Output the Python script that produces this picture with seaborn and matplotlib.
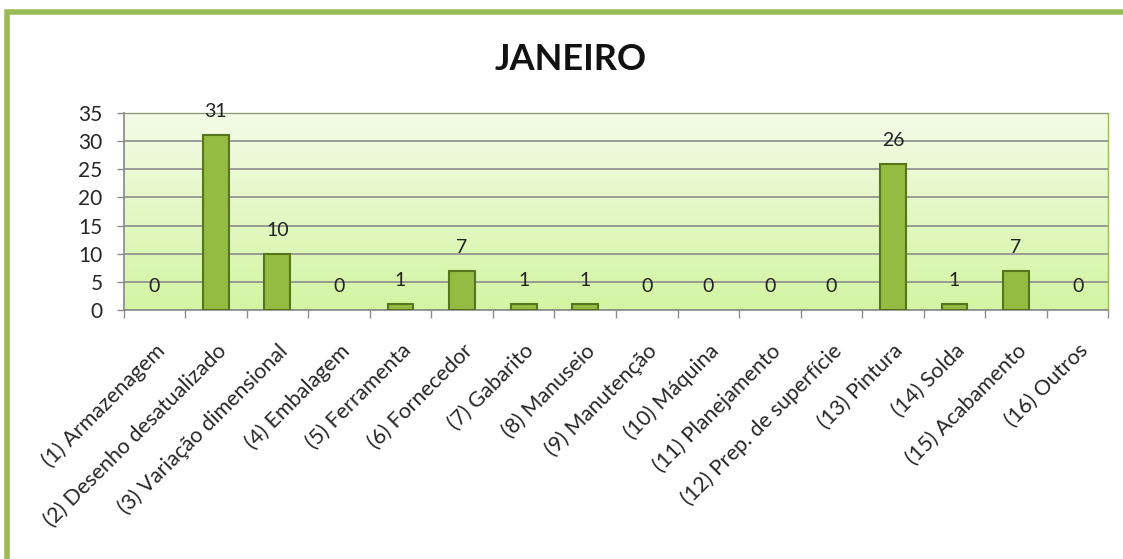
import numpy as np
import pandas as pd
import matplotlib
matplotlib.use("Agg")
import matplotlib.pyplot as plt
import matplotlib.patches as patches
import seaborn as sns
from matplotlib.colors import LinearSegmentedColormap

# data
categorias = [
    "(1) Armazenagem", "(2) Desenho desatualizado", "(3) Variação dimensional",
    "(4) Embalagem", "(5) Ferramenta", "(6) Fornecedor", "(7) Gabarito",
    "(8) Manuseio", "(9) Manutenção", "(10) Máquina", "(11) Planejamento",
    "(12) Prep. de superfície", "(13) Pintura", "(14) Solda", "(15) Acabamento",
    "(16) Outros",
]
ocorrencias = [0, 31, 10, 0, 1, 7, 1, 1, 0, 0, 0, 0, 26, 1, 7, 0]
titulo = "JANEIRO"
y_ticks = [0, 5, 10, 15, 20, 25, 30, 35]


def main():
    sns.set_theme(style="white")
    plt.rcParams["font.family"] = ["Lato", "DejaVu Sans"]

    df = pd.DataFrame({"categoria": categorias, "valor": ocorrencias})

    fig = plt.figure(figsize=(11.23, 5.59), dpi=100)
    ax = fig.add_axes([0.110, 0.4454, 0.877, 0.3525])

    # green frame around the chart
    frame = patches.Rectangle((0.006, -0.01), 1.05, 0.988, transform=fig.transFigure,
                              fill=False, edgecolor="#9bbb59", linewidth=4, clip_on=False)
    fig.patches.append(frame)

    # gradient background of the plot area
    cmap = LinearSegmentedColormap.from_list("bg", ["#d3f5a2", "#f4fbe8"])
    grad = np.linspace(0, 1, 256).reshape(-1, 1)
    ax.imshow(grad, aspect="auto", cmap=cmap, origin="lower",
              extent=[-0.5, len(categorias) - 0.5, 0, 35], zorder=0)

    sns.barplot(data=df, x="categoria", y="valor", ax=ax, color="#94bb42",
                width=0.42, saturation=1, edgecolor="#56751c", linewidth=1.5, zorder=3)
    # no outline for the empty bars
    for p in ax.patches:
        if p.get_height() == 0:
            p.set_visible(False)

    ax.set_xlim(-0.5, len(categorias) - 0.5)
    ax.set_ylim(0, 35)
    ax.set_yticks(y_ticks)
    ax.yaxis.grid(True, color="#8c8c8c", linewidth=1.2)
    ax.set_axisbelow(False)
    for gl in ax.get_ygridlines():
        gl.set_zorder(1)

    for i, v in enumerate(ocorrencias):
        ax.annotate(str(v), (i, v), xytext=(0, 17), textcoords="offset points",
                    ha="center", va="center", fontsize=14, color="#222222", zorder=5)

    ax.set_xlabel("")
    ax.set_ylabel("")
    ax.set_xticks(range(len(categorias)))
    ax.set_xticklabels(categorias, rotation=45, ha="right", rotation_mode="anchor",
                       fontsize=15.5)
    # small separators between categories, like the excel axis
    ax.set_xticks(np.arange(-0.5, len(categorias), 1), minor=True)
    ax.tick_params(axis="x", which="minor", bottom=True, length=6, width=1,
                   color="#8c8c8c", direction="out")
    ax.tick_params(axis="y", which="major", left=True, length=5, width=1,
                   color="#8c8c8c", labelsize=15, pad=10)
    ax.tick_params(axis="x", which="major", length=0, pad=22)

    for s in ["top", "right"]:
        ax.spines[s].set_color("#9bbb59")
        ax.spines[s].set_linewidth(1)
    ax.spines["left"].set_color("#8c8c8c")
    ax.spines["bottom"].set_color("#8c8c8c")

    fig.text(0.508, 0.893, titulo, ha="center", va="center", fontsize=26,
             fontweight="bold", color="#111111")

    fig.savefig("out.png", dpi=100)


if __name__ == "__main__":
    main()
